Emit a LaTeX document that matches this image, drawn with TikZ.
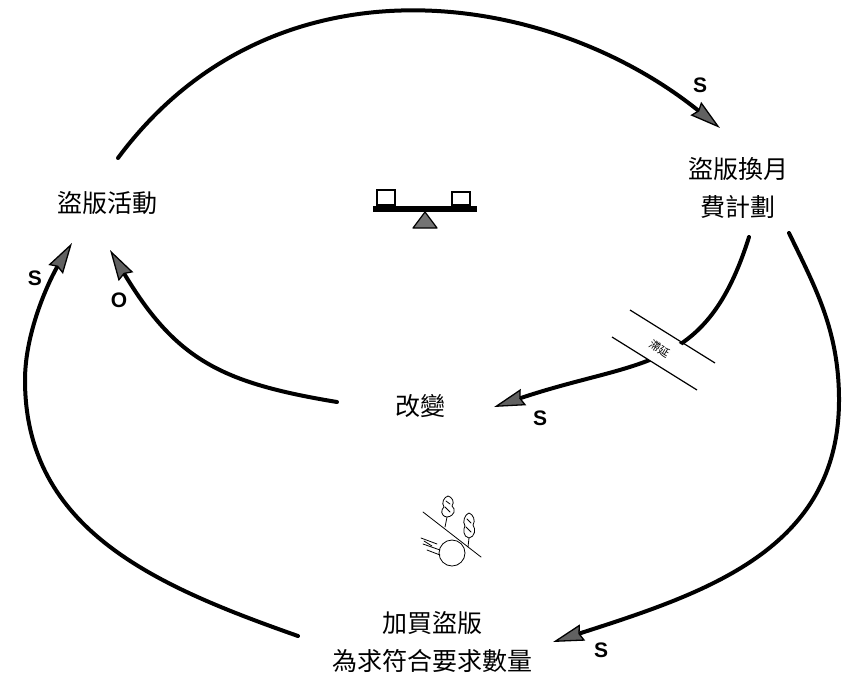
\documentclass[tikz,border=0pt]{standalone}
\usepackage{fontspec}
\newfontfamily\cjk{Noto Sans CJK TC}
\newfontfamily\polfont{Liberation Sans}
\usetikzlibrary{arrows.meta}
\begin{document}
\begin{tikzpicture}[x=1pt,y=-1pt,
  link/.style={line width=4pt, line cap=round,
    -{Stealth[length=31pt,width=17pt,inset=3pt,line width=1.3pt,fill=black!62]}},
  var/.style={font=\cjk\fontsize{25}{38}\selectfont, align=center, inner sep=0pt},
  pol/.style={font=\polfont\bfseries\fontsize{21}{21}\selectfont, inner sep=0pt},
  thin/.style={line width=0.8pt, line cap=round, line join=round},
]
\useasboundingbox (0,0) rectangle (842,675);

% variables
\node[var] (pirate) at (107,203) {盜版活動};
\node[var] (plan)   at (738,188) {盜版換月\\費計劃};
\node[var] (change) at (420,406) {改變};
\node[var] (buy)    at (432,642) {加買盜版\\為求符合要求數量};

% link end points
\coordinate (pirateTop)   at (118,158);
\coordinate (planIn)      at (720,128);
\coordinate (planOutA)    at (749,237);
\coordinate (changeIn)    at (494,407);
\coordinate (changeOut)   at (337,402);
\coordinate (pirateInA)   at (110,250);
\coordinate (planOutB)    at (789,233);
\coordinate (buyIn)       at (553,642);
\coordinate (buyOut)      at (298,636);
\coordinate (pirateInB)   at (72,243);

% outer links
\draw[link] (pirateTop) .. controls (273,-51) and (547,-11) .. (planIn);
\draw[link] (planOutB) .. controls (815,287) and (839,330) .. (839,400)
                       .. controls (839,550) and (705,593) .. (buyIn);
\draw[link] (buyOut) .. controls (156,586) and (25,530) .. (25,380)
                     .. controls (25,330) and (51,277) .. (pirateInB);

% inner links
\draw[link] (planOutA) .. controls (706,374) and (640,358) .. (changeIn);
\draw[link] (changeOut) .. controls (222,383) and (176,360) .. (pirateInA);

% delay mark on the inner link
\fill[white, rotate around={-32:(660,349)}] (643,334) rectangle (677,364);
\draw[line width=1.2pt] (630,310) -- (715,363);
\draw[line width=1.2pt] (612,337) -- (697,390);
\node[rotate=-32, inner sep=0pt, font=\cjk\fontsize{11}{11}\selectfont] (delay) at (660,349) {滯延};

% polarity signs
\node[pol] (sTop)    at (700,85)  {S};
\node[pol] (sLeft)   at (35,278)  {S};
\node[pol] (oLeft)   at (119,300) {O};
\node[pol] (sChange) at (540,418) {S};
\node[pol] (sBuy)    at (601,650) {S};

% balance icon
\fill (373,206) rectangle (477,212);
\draw[line width=1.8pt] (377,205) rectangle (395,190);
\draw[line width=1.8pt] (452,205) rectangle (470,192);
\filldraw[fill=black!55, line width=1.2pt, line join=round] (425,212) -- (413,228) -- (437,228) -- cycle;

% snowball icon
\draw[thin] (423,512) -- (481,557);
\draw[thin] (452,553) circle (13);
\draw[thin] (421,538) -- (437,544);
\draw[thin] (423,544) -- (440,550);
\draw[thin] (427,550) -- (440,555);
\draw[thin] (424,541) -- (432,546);
% trees
\draw[thin] (445,527) -- (447,517);
\draw[thin, fill=white] (447,517) .. controls (440,516) and (441,509) .. (444,507)
   .. controls (441,503) and (444,497) .. (448,496)
   .. controls (452,497) and (455,502) .. (452,506)
   .. controls (456,509) and (455,516) .. (447,517);
\draw[thin] (445,507) -- (450,512) (446,501) -- (450,504);
\draw[thin] (468,547) -- (469,538);
\draw[thin, fill=white] (469,538) .. controls (463,537) and (463,529) .. (465,526)
   .. controls (462,522) and (465,514) .. (469,513)
   .. controls (473,514) and (476,521) .. (473,525)
   .. controls (476,529) and (475,537) .. (469,538);
\draw[thin] (466,527) -- (471,532) (467,519) -- (471,523);
\end{tikzpicture}
\end{document}
